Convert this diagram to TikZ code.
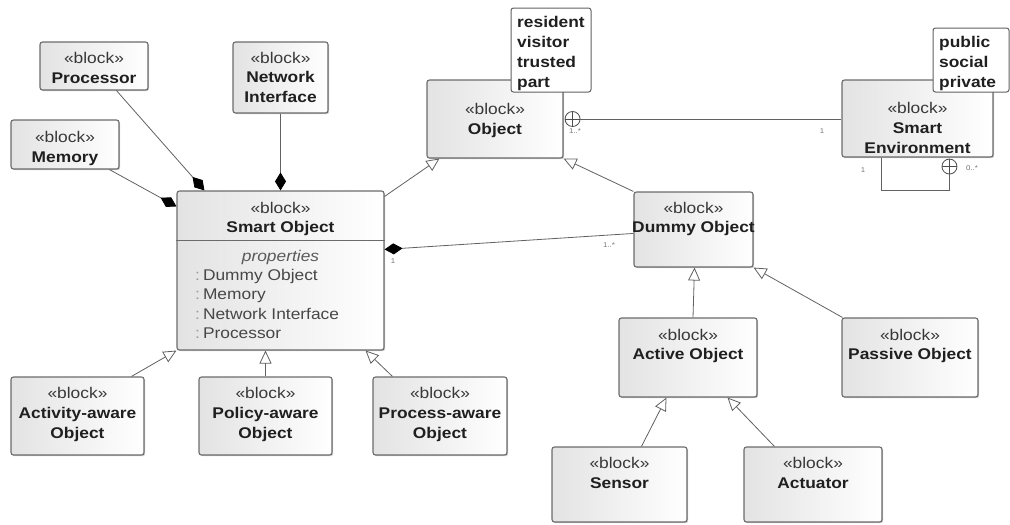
\documentclass[tikz,border=0pt]{standalone}
\usepackage{fontspec}
\setmainfont{Liberation Sans}[FakeStretch=1.12]
\usetikzlibrary{arrows.meta,calc,shadows}

% block with corners (x1,y1) and (x2,y2), y measured downwards
\newcommand\umlbox[5]{%
  \node[umlblk, minimum width={#4pt-#2pt}, minimum height={#5pt-#3pt}]
    (#1) at ({(#2+#4)/2},{(#3+#5)/2}) {};}

\tikzset{
  edge col/.style={draw=black!62},
  umlblk/.style={draw=black!58, line width=1.1pt, rounded corners=2.5pt,
    left color=black!11, right color=white, inner sep=0pt,
    drop shadow={shadow xshift=1.2pt, shadow yshift=-1.2pt, fill=black, opacity=0.2}},
  notebox/.style={draw=black!62, line width=1pt, rounded corners=2.5pt,
    fill=white, inner sep=0pt},
  txt/.style={font=\fontsize{15.5}{19}\selectfont, text=black!78, inner sep=0pt, anchor=base},
  nm/.style={txt, font=\fontsize{15.5}{19}\selectfont\bfseries, text=black!88},
  prop/.style={txt, anchor=base west, text=black!72},
  ntxt/.style={nm, anchor=base west},
  mult/.style={font=\fontsize{7}{8}\selectfont, text=black!55, inner sep=0pt},
  conn/.style={edge col, line width=0.8pt},
  gen/.style={conn, -{Triangle[length=13pt, width=12pt, fill=white, line width=0.8pt]}},
  comp/.style={conn, -{Diamond[length=18pt, width=11pt, color=black, fill=black]}},
  oplus/.style={circle, draw=black!70, line width=0.8pt, fill=white,
    minimum size=15pt, inner sep=0pt,
    path picture={\draw[black!70, line width=0.8pt]
      (path picture bounding box.north) -- (path picture bounding box.south)
      (path picture bounding box.west) -- (path picture bounding box.east);}},
}

\begin{document}
\begin{tikzpicture}[x=1pt, y=-1pt]
\useasboundingbox (0,0) rectangle (1010,525);

% ---------- blocks ----------
\umlbox{proc}{40}{42}{148}{90}
\node[txt] (proc-s) at (94,63) {«block»};
\node[nm]  (proc-n) at (94,83) {Processor};

\umlbox{ni}{233}{42}{328}{113}
\node[txt] (ni-s)  at (280.5,63) {«block»};
\node[nm]  (ni-n1) at (280.5,82) {Network};
\node[nm]  (ni-n2) at (280.5,102) {Interface};

\umlbox{mem}{11}{120}{119}{169}
\node[txt] (mem-s) at (65,142) {«block»};
\node[nm]  (mem-n) at (65,162) {Memory};

\umlbox{so}{177}{191}{384}{350}
\draw[draw=black!58, line width=1.1pt] ($(so.north west)+(0,50)$) -- ($(so.north east)+(0,50)$);
\node[txt] (so-s) at (280.5,213) {«block»};
\node[nm]  (so-n) at (280.5,232) {Smart Object};
\node[txt, font=\fontsize{15.5}{19}\selectfont\itshape, text=black!65] (so-p) at (280.5,261) {properties};
\node[prop] (so-p1) at (195,280) {\textcolor{black!40}{:}\kern3pt Dummy Object};
\node[prop] (so-p2) at (195,299) {\textcolor{black!40}{:}\kern3pt Memory};
\node[prop] (so-p3) at (195,319) {\textcolor{black!40}{:}\kern3pt Network Interface};
\node[prop] (so-p4) at (195,338) {\textcolor{black!40}{:}\kern3pt Processor};

\umlbox{obj}{427}{80}{563}{158}
\node[txt] (obj-s) at (495,114) {«block»};
\node[nm]  (obj-n) at (495,134) {Object};

\umlbox{se}{842}{80}{993}{157}
\node[txt] (se-s)  at (917.5,113) {«block»};
\node[nm]  (se-n1) at (917.5,133) {Smart};
\node[nm]  (se-n2) at (917.5,153) {Environment};

\umlbox{dob}{634}{192}{753}{267}
\node[txt] (dob-s) at (693.5,213) {«block»};
\node[nm]  (dob-n) at (693.5,232) {Dummy Object};

\umlbox{ao}{619}{318}{757}{397}
\node[txt] (ao-s) at (688,340) {«block»};
\node[nm]  (ao-n) at (688,359) {Active Object};

\umlbox{po}{842}{318}{978}{397}
\node[txt] (po-s) at (910,340) {«block»};
\node[nm]  (po-n) at (910,359) {Passive Object};

\umlbox{sen}{552}{447}{687}{522}
\node[txt] (sen-s) at (619.5,468) {«block»};
\node[nm]  (sen-n) at (619.5,488) {Sensor};

\umlbox{act}{744}{447}{882}{522}
\node[txt] (act-s) at (813,468) {«block»};
\node[nm]  (act-n) at (813,488) {Actuator};

\umlbox{aa}{11}{377}{144}{455}
\node[txt] (aa-s)  at (77.5,398) {«block»};
\node[nm]  (aa-n1) at (77.5,418) {Activity-aware};
\node[nm]  (aa-n2) at (77.5,438) {Object};

\umlbox{pa}{199}{377}{332}{455}
\node[txt] (pa-s)  at (265.5,398) {«block»};
\node[nm]  (pa-n1) at (265.5,418) {Policy-aware};
\node[nm]  (pa-n2) at (265.5,438) {Object};

\umlbox{pra}{373}{377}{507}{455}
\node[txt] (pra-s)  at (440,398) {«block»};
\node[nm]  (pra-n1) at (440,418) {Process-aware};
\node[nm]  (pra-n2) at (440,438) {Object};

% ---------- notes ----------
\node[notebox, minimum width=80pt, minimum height=84pt] (n1) at (551,50) {};
\node[ntxt] (n1-a) at (517,27) {resident};
\node[ntxt] (n1-b) at (517,47) {visitor};
\node[ntxt] (n1-c) at (517,67) {trusted};
\node[ntxt] (n1-d) at (517,87) {part};

\node[notebox, minimum width=76pt, minimum height=64pt] (n2) at (971,60) {};
\node[ntxt] (n2-a) at (939,47) {public};
\node[ntxt] (n2-b) at (939,67) {social};
\node[ntxt] (n2-c) at (939,87) {private};

% ---------- compositions ----------
\draw[comp] ($(proc.south west)+(77,0)$) -- ($(so.north west)+(28,0)$);
\draw[comp] (ni.south) -- (ni.south |- so.north);
\draw[comp] ($(mem.south west)+(99,0)$) -- ($(so.north west)+(0,16)$);
\draw[comp] ($(dob.north west)+(0,42)$) -- ($(so.north east)+(0,59)$);
\node[mult] (m-so) at (393,261) {1};
\node[mult] (m-dob) at (609,245) {1..*};

% ---------- generalizations ----------
\draw[gen] ($(so.north east)+(0,6)$) -- ($(obj.south west)+(13,0)$);
\draw[gen] (dob.north west) -- (obj.south east);
\draw[gen] ($(ao.north)+(5,0)$) -- ($(dob.south)+(1,0)$);
\draw[gen] ($(po.north west)+(1,0)$) -- (dob.south east);
\draw[gen] ($(sen.north west)+(90,0)$) -- ($(ao.south west)+(48,0)$);
\draw[gen] ($(act.north west)+(31,0)$) -- ($(ao.south east)+(-30,0)$);
\draw[gen] ($(aa.north west)+(121,0)$) -- (so.south west);
\draw[gen] (pa.north) -- (pa.north |- so.south);
\draw[gen] ($(pra.north west)+(20,0)$) -- ($(so.south east)+(-19,0)$);

% ---------- containment ----------
\node[oplus] (cp1) at ($(obj.east)+(9,0)$) {};
\draw[conn] (cp1.east) -- (cp1.east -| se.west);
\node[mult] (m-obj) at (575,131) {1..*};
\node[mult] (m-se) at (822,131) {1};

\node[oplus] (cp2) at ($(se.south west)+(108,9)$) {};
\draw[conn] ($(se.south west)+(40,0)$) |- ($(cp2)+(0,24)$) -- (cp2.south);
\node[mult] (m-se1) at (863,170) {1};
\node[mult] (m-se2) at (972,168) {0..*};
\end{tikzpicture}
\end{document}
